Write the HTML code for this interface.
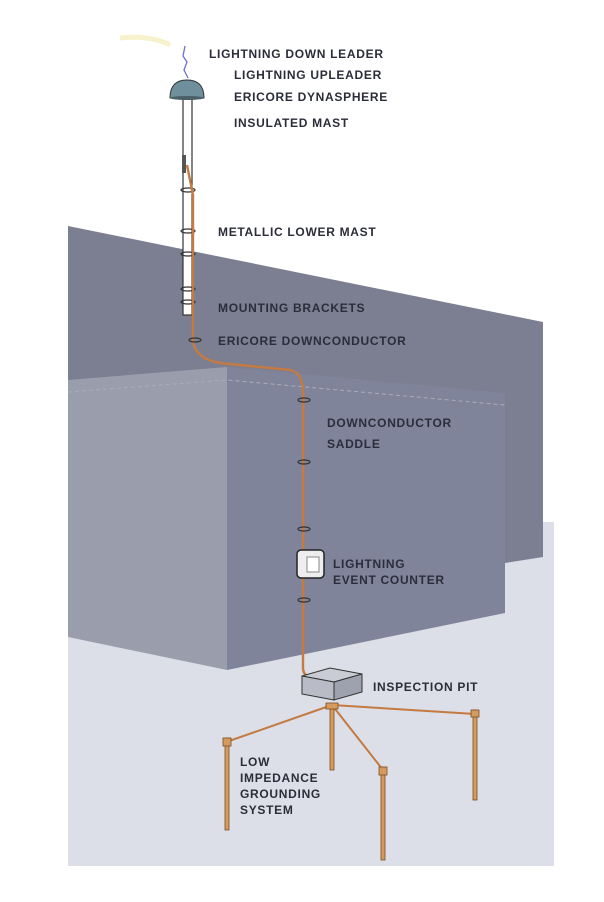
<!DOCTYPE html>
<html><head><meta charset="utf-8"><style>
html,body{margin:0;padding:0;background:#fff}
svg{display:block}
text{font-family:"Liberation Sans",Arial,sans-serif;font-weight:bold;font-size:12px;letter-spacing:0.7px;fill:#2b2d3a}
</style></head><body>
<svg width="604" height="902" viewBox="0 0 604 902">
<rect width="604" height="902" fill="#fff"/>
<!-- ground -->
<polygon points="68,560 505,560 505,522 554,522 554,866 68,866" fill="#dcdfe7"/>
<!-- back building -->
<polygon points="68,226 543,322 543,557 505,563 505,600 68,600" fill="#7b7f91"/>
<!-- front building -->
<polygon points="68,380 227,367 227,670 68,637" fill="#9a9eac"/>
<polygon points="227,367 505,393 505,613 227,670" fill="#80849a"/>
<polyline points="68,392 227,380 505,405" fill="none" stroke="#a9adba" stroke-width="1" stroke-dasharray="4,3"/>
<!-- lightning -->
<path d="M120,38 Q150,35 170,45" stroke="#f2e9a8" stroke-width="5" fill="none" opacity="0.6"/>
<path d="M185,46 L183,56 L187,62 L184,70 L188,78" stroke="#6b6fd0" stroke-width="1.3" fill="none"/>
<!-- mast -->
<rect x="183" y="95" width="9" height="220" fill="#fff" stroke="#333" stroke-width="1.2"/>
<rect x="182" y="155" width="4" height="18" fill="#555"/>
<path d="M170,98 Q170,80 187,80 Q204,80 204,98 Z" fill="#6f8f9c" stroke="#333" stroke-width="1"/>
<ellipse cx="187" cy="98" rx="17" ry="2" fill="#4c5e68"/>
<!-- brackets on mast -->
<g fill="none" stroke="#333" stroke-width="1.2">
<ellipse cx="188" cy="190" rx="7" ry="2"/>
<ellipse cx="188" cy="231" rx="7" ry="2"/>
<ellipse cx="188" cy="254" rx="7" ry="2"/>
<ellipse cx="188" cy="289" rx="7" ry="2"/>
<ellipse cx="188" cy="302" rx="7" ry="2"/>
</g>
<!-- downconductor -->
<path d="M187,165 L193,195 L193,340 Q195,362 230,364 L290,370 Q303,372 303,395 L303,668 Q303,678 318,679" fill="none" stroke="#c47a40" stroke-width="2.4"/>
<g fill="none" stroke="#333" stroke-width="1.2">
<ellipse cx="195" cy="340" rx="6" ry="2"/>
<ellipse cx="304" cy="400" rx="6" ry="2"/>
<ellipse cx="304" cy="462" rx="6" ry="2"/>
<ellipse cx="304" cy="529" rx="6" ry="2"/>
<ellipse cx="304" cy="600" rx="6" ry="2"/>
</g>
<!-- event counter -->
<rect x="297" y="550" width="27" height="28" rx="4" fill="#eee" stroke="#222" stroke-width="1.5"/>
<rect x="307" y="557" width="12" height="15" fill="#fff" stroke="#888"/>
<!-- grounding wires -->
<g stroke="#c47a40" stroke-width="2" fill="none">
<line x1="332" y1="705" x2="229" y2="741"/>
<line x1="332" y1="705" x2="383" y2="770"/>
<line x1="332" y1="705" x2="475" y2="714"/>
</g>
<!-- rods -->
<g fill="#d79a5d" stroke="#7a4e26" stroke-width="0.8">
<rect x="330" y="705" width="4" height="65"/>
<rect x="225" y="738" width="4" height="92"/>
<rect x="381" y="767" width="4" height="93"/>
<rect x="473" y="710" width="4" height="90"/>
<rect x="223" y="738" width="8" height="8"/>
<rect x="379" y="767" width="8" height="8"/>
<rect x="471" y="710" width="8" height="7"/>
<rect x="326" y="703" width="12" height="6"/>
</g>
<!-- pit -->
<polygon points="302,676 330,668 362,674 334,682" fill="#c9ccd4" stroke="#333"/>
<polygon points="302,676 334,682 334,700 302,694" fill="#b9bcc6" stroke="#333"/>
<polygon points="334,682 362,674 362,692 334,700" fill="#9ea2ae" stroke="#333"/>
<!-- labels -->
<text x="209" y="58">LIGHTNING DOWN LEADER</text>
<text x="234" y="79">LIGHTNING UPLEADER</text>
<text x="234" y="101">ERICORE DYNASPHERE</text>
<text x="234" y="127">INSULATED MAST</text>
<text x="218" y="236">METALLIC LOWER MAST</text>
<text x="218" y="312">MOUNTING BRACKETS</text>
<text x="218" y="345">ERICORE DOWNCONDUCTOR</text>
<text x="327" y="427">DOWNCONDUCTOR</text>
<text x="327" y="448">SADDLE</text>
<text x="333" y="568">LIGHTNING</text>
<text x="333" y="584">EVENT COUNTER</text>
<text x="373" y="691">INSPECTION PIT</text>
<text x="240" y="766">LOW</text>
<text x="240" y="782">IMPEDANCE</text>
<text x="240" y="798">GROUNDING</text>
<text x="240" y="814">SYSTEM</text>
</svg>
</body></html>
